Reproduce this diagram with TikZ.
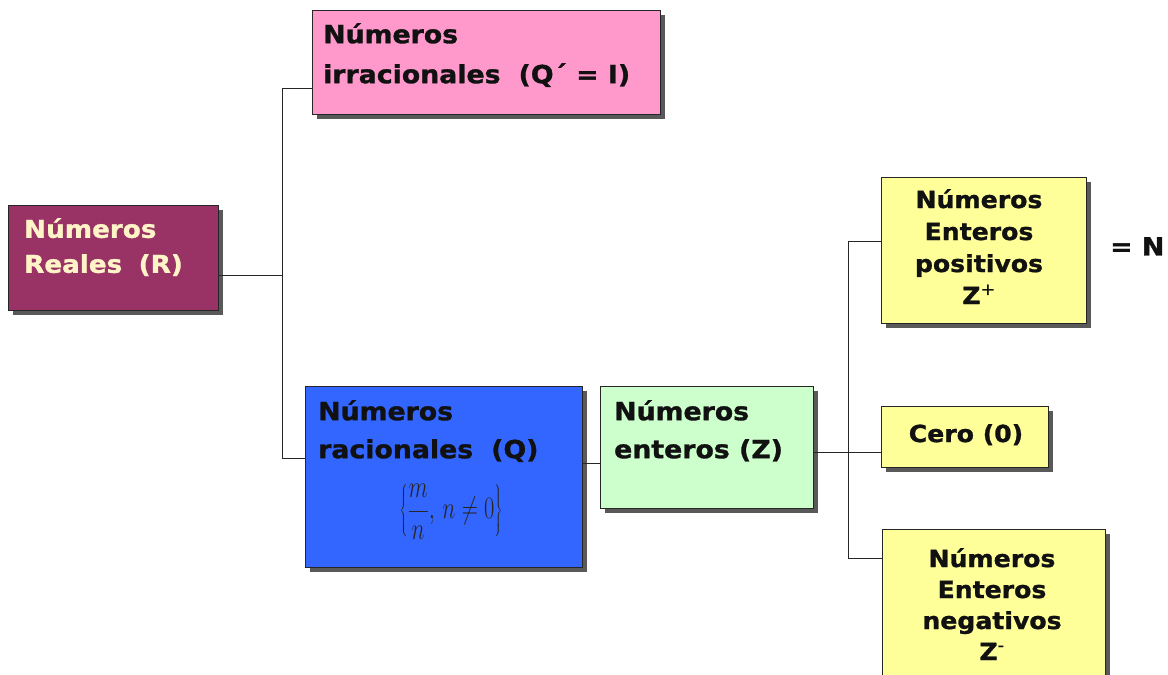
\documentclass[tikz,border=0pt]{standalone}
\usepackage[no-math]{fontspec}
\newfontfamily\vfont{DejaVu Sans}[FakeStretch=1.07, FakeBold=1.2]
\usetikzlibrary{shadows}
\definecolor{plum}{HTML}{993366}
\definecolor{cream}{HTML}{FFF4C8}
\definecolor{pinkc}{HTML}{FF99CC}
\definecolor{bluec}{HTML}{3366FF}
\definecolor{greenc}{HTML}{CCFFCC}
\definecolor{yellowc}{HTML}{FFFF99}
\definecolor{ink}{HTML}{111111}
\tikzset{
  box/.style={draw=black!85, line width=1pt, inner sep=0pt, anchor=north west,
    drop shadow={shadow xshift=4.5pt, shadow yshift=-4.5pt, fill=black!65, opacity=1}},
  txt/.style={inner sep=0pt, text=ink, font=\vfont\bfseries\fontsize{25}{38}\selectfont},
  link/.style={draw=black!85, line width=1pt},
}
\begin{document}
\begin{tikzpicture}[x=1pt, y=-1pt]
\useasboundingbox[fill=white] (0,0) rectangle (1168,675);

% boxes
\node[box, fill=plum,    minimum width=210pt, minimum height=105pt] (real) at (8,205) {};
\node[box, fill=pinkc,   minimum width=348pt, minimum height=104pt] (irr)  at (312,10) {};
\node[box, fill=bluec,   minimum width=277pt, minimum height=181pt] (rac)  at (305,386) {};
\node[box, fill=greenc,  minimum width=213pt, minimum height=122pt] (ent)  at (600,386) {};
\node[box, fill=yellowc, minimum width=205pt, minimum height=146pt] (pos)  at (881,177) {};
\node[box, fill=yellowc, minimum width=167pt, minimum height=61pt]  (cero) at (881,406) {};
\node[box, fill=yellowc, minimum width=223pt, minimum height=170pt] (neg)  at (882,529) {};

% texts
\node[txt, text=cream, align=left, anchor=north west, font=\vfont\bfseries\fontsize{24.5}{35}\selectfont]
  (realT) at (24,218) {Números\\Reales\hspace{0.3em} (R)};
\node[txt, align=left, anchor=north west, font=\vfont\bfseries\fontsize{25}{40}\selectfont]
  (irrT) at (323,23) {Números\\irracionales\hspace{0.35em} (Q´ = I)};
\node[txt, align=left, anchor=north west] (racT) at (318,400) {Números\\racionales\hspace{0.35em} (Q)};
\node[inner sep=0pt, text=black!85] (form) at (451,512)
  {\scalebox{0.9}[1.25]{\fontsize{26}{30}\selectfont$\displaystyle\left\{\frac{m}{n},\,n\neq 0\right\}$}};
\node[txt, align=left, anchor=north west] (entT) at (614,400) {Números\\enteros (Z)};
\node[txt, align=center, anchor=north, font=\vfont\bfseries\fontsize{23.5}{32}\selectfont]
  (posT) at (979,189) {Números\\Enteros\\positivos\\Z{\mdseries\textsuperscript{+}}};
\node[txt, anchor=north, font=\vfont\bfseries\fontsize{23.5}{32}\selectfont]
  (ceroT) at (966,424) {Cero (0)};
\node[txt, align=center, anchor=north, font=\vfont\bfseries\fontsize{23.5}{31}\selectfont]
  (negT) at (992,548) {Números\\Enteros\\negativos\\Z{\mdseries\textsuperscript{-}}};
\node[txt, anchor=north west] (nat) at (1110,237) {= N};

% connectors
\coordinate (rj) at (282,275);
\coordinate (t1) at (282,88);
\coordinate (t2) at (282,458);
\coordinate (c2) at (590,463);
\coordinate (u0) at (848,452);
\coordinate (u1) at (848,241);
\coordinate (u2) at (848,558);
\draw[link] (real.east |- rj) -- (rj);
\draw[link] (irr.west |- t1) -- (t1) -- (t2) -- (rac.west |- t2);
\draw[link] (rac.east |- c2) -- (ent.west |- c2);
\draw[link] (ent.east |- u0) -- (cero.west |- u0);
\draw[link] (pos.west |- u1) -- (u1) -- (u2) -- (neg.west |- u2);
\end{tikzpicture}
\end{document}
